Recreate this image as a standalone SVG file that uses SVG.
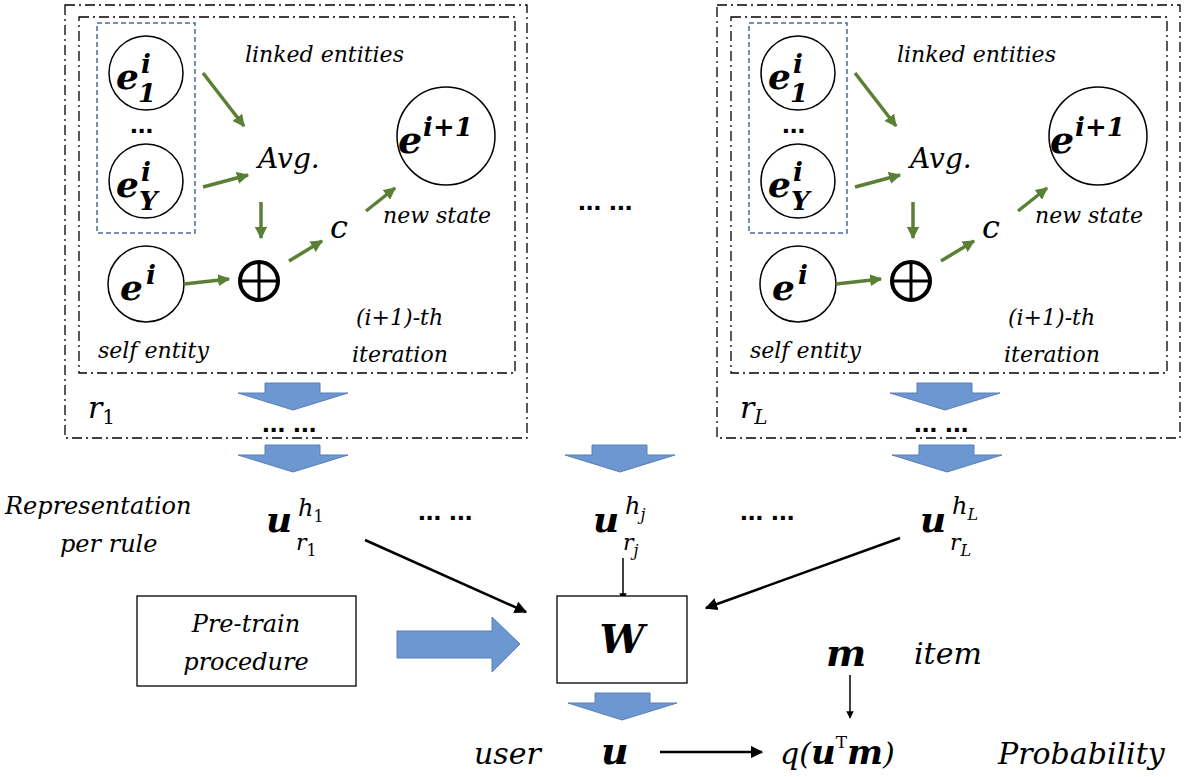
<svg xmlns="http://www.w3.org/2000/svg" width="1200" height="777" viewBox="0 0 1200 777">
<style>
text{font-family:"DejaVu Serif","Liberation Serif",serif;fill:#000}
.it{font-style:italic}
.b{font-weight:bold;font-style:italic}
.dd{fill:none;stroke:#000;stroke-width:1.3;stroke-dasharray:10 4 2 4}
.bd{fill:none;stroke:#4a6a9a;stroke-width:1.5;stroke-dasharray:5 3}
.c{fill:#fff;stroke:#000;stroke-width:1.5}
.g{stroke:#5a7f35;stroke-width:3.5;fill:none;marker-end:url(#ga)}
.k{stroke:#000;stroke-width:2.5;fill:none;marker-end:url(#ka)}
.k1{stroke:#000;stroke-width:1.5;fill:none;marker-end:url(#ka)}
.bl{fill:#6c97d0;stroke:#5a80b5;stroke-width:1}
.dots{font-family:"Liberation Sans",sans-serif;font-weight:bold;font-size:28px}
</style>
<defs>
<marker id="ga" viewBox="0 0 10 10" refX="9" refY="5" markerWidth="3.5" markerHeight="3.5" orient="auto"><path d="M0,0L10,5L0,10z" fill="#5a7f35"/></marker>
<marker id="ka" viewBox="0 0 10 10" refX="9" refY="5" markerWidth="5" markerHeight="5" orient="auto"><path d="M0,0L10,5L0,10z" fill="#000"/></marker>
<g id="panel">
<rect class="dd" x="79" y="17" width="436" height="356"/>
<rect class="bd" x="97" y="23" width="98" height="210"/>
<circle class="c" cx="146" cy="73" r="37"/>
<text x="116" y="89" class="b" style="font-size:36px">e</text><text x="141" y="73" class="b" style="font-size:26px">i</text><text x="138" y="102" class="b" style="font-size:26px">1</text>
<text x="130" y="133" class="dots">...</text>
<circle class="c" cx="146" cy="181" r="37"/>
<text x="116" y="197" class="b" style="font-size:36px">e</text><text x="141" y="181" class="b" style="font-size:26px">i</text><text x="139" y="210" class="b" style="font-size:26px">Y</text>
<circle class="c" cx="146" cy="284" r="38"/>
<text x="120" y="300" class="b" style="font-size:36px">e</text><text x="146" y="284" class="b" style="font-size:26px">i</text>
<circle class="c" cx="446" cy="136" r="49"/>
<text x="398" y="153" class="b" style="font-size:38px">e</text><text x="423" y="136" class="b" style="font-size:26px">i+1</text>
<text x="245" y="62" class="it" style="font-size:22px">linked entities</text>
<text x="258" y="168" class="it" style="font-size:28px">Avg.</text>
<text x="330" y="238" class="it" style="font-size:32px">c</text>
<text x="383" y="223" class="it" style="font-size:22px">new state</text>
<text x="98" y="358" class="it" style="font-size:22px">self entity</text>
<text x="356" y="325" class="it" style="font-size:22px">(i+1)-th</text>
<text x="352" y="362" class="it" style="font-size:22px">iteration</text>
<circle cx="259" cy="281" r="19" fill="none" stroke="#000" stroke-width="4"/>
<path d="M240,281H278M259,262V300" stroke="#000" stroke-width="3"/>
<path class="g" d="M203,73L244,126"/>
<path class="g" d="M203,187L248,175"/>
<path class="g" d="M261,202V238"/>
<path class="g" d="M184,284L229,279"/>
<path class="g" d="M289,261L322,241"/>
<path class="g" d="M366,211L395,188"/>
<path class="bl" d="M265,383H320V393H348L293,410L238,393H265Z"/>
<text x="262" y="432" class="dots">... ...</text>
</g>
</defs>
<g id="left"><rect class="dd" x="65" y="5" width="462" height="433"/><use href="#panel"/><text x="88" y="418" class="it" style="font-size:30px">r<tspan dy="6" style="font-size:20px;font-style:normal">1</tspan></text></g>
<g id="right"><rect class="dd" x="717" y="5" width="463" height="433"/><use href="#panel" x="652"/><text x="740" y="418" class="it" style="font-size:30px">r<tspan dy="6" style="font-size:20px">L</tspan></text></g>
<text x="578" y="210" class="dots">... ...</text>
<g id="blockarrows">
<path class="bl" d="M265,445H320V455H348L293,472L238,455H265Z"/>
<path class="bl" d="M592,445H647V455H675L620,472L565,455H592Z"/>
<path class="bl" d="M919,445H974V455H1002L947,472L892,455H919Z"/>
<path class="bl" d="M397,631H492V617L520,644L492,672V658H397Z"/>
<path class="bl" d="M595,693H650V703H677L622,720L568,703H595Z"/>
</g>
<g id="connectors">
<path class="k" d="M365,540L526,612"/>
<path class="k1" d="M623,558V600"/>
<path class="k" d="M900,538L706,608"/>
<path class="k1" d="M850,675V718"/>
<path class="k" d="M660,752H762"/>
</g>
<g id="labels">
<text x="5" y="514" class="it" style="font-size:24px">Representation</text>
<text x="60" y="552" class="it" style="font-size:24px">per rule</text>
<text x="266" y="532" class="b" style="font-size:36px">u</text><text x="298" y="516" class="it" style="font-size:24px">h<tspan dy="6" style="font-size:16px;font-style:normal">1</tspan></text><text x="296" y="550" class="it" style="font-size:22px">r<tspan dy="6" style="font-size:16px;font-style:normal">1</tspan></text>
<text x="418" y="520" class="dots">... ...</text>
<text x="593" y="532" class="b" style="font-size:36px">u</text><text x="625" y="514" class="it" style="font-size:24px">h<tspan dy="6" style="font-size:16px">j</tspan></text><text x="623" y="550" class="it" style="font-size:22px">r<tspan dy="6" style="font-size:16px">j</tspan></text>
<text x="740" y="520" class="dots">... ...</text>
<text x="920" y="532" class="b" style="font-size:36px">u</text><text x="952" y="514" class="it" style="font-size:24px">h<tspan dy="6" style="font-size:16px">L</tspan></text><text x="950" y="550" class="it" style="font-size:22px">r<tspan dy="6" style="font-size:16px">L</tspan></text>
</g>
<g id="pretrain"><rect x="137" y="596" width="219" height="90" fill="#fff" stroke="#000" stroke-width="1.3"/><text x="246" y="632" class="it" text-anchor="middle" style="font-size:24px">Pre-train</text><text x="246" y="670" class="it" text-anchor="middle" style="font-size:24px">procedure</text></g>
<g id="W"><rect x="557" y="596" width="130" height="87" fill="#fff" stroke="#000" stroke-width="1.3"/><text x="622" y="653" class="b" text-anchor="middle" style="font-size:40px">W</text></g>
<g id="m"><text x="826" y="666" class="b" style="font-size:38px">m</text><text x="914" y="664" class="it" style="font-size:30px">item</text></g>
<g id="user"><text x="474" y="764" class="it" style="font-size:30px">user</text><text x="601" y="764" class="b" style="font-size:38px">u</text></g>
<g id="q"><text x="780" y="764" class="it" style="font-size:30px">q(<tspan style="font-weight:bold;font-size:34px">u</tspan><tspan dy="-16" style="font-style:normal;font-size:17px">T</tspan><tspan dy="16" style="font-weight:bold;font-size:34px">m</tspan>)</text><text x="998" y="764" class="it" style="font-size:30px">Probability</text></g>
</svg>
